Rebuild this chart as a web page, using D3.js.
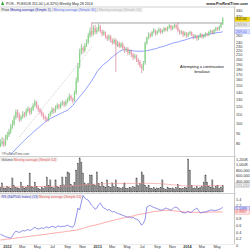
<!DOCTYPE html>
<html>
<head>
<meta charset="utf-8">
<script src="https://d3js.org/d3.v7.min.js"></script>
<style>
  body { margin: 0; background: #fff; }
  svg { display: block; font-family: 'Liberation Sans', Arial, sans-serif; }
</style>
</head>
<body>
<div id="chart"></div>
<script>
// weekly candles, first and last week of the chart
var firstWeek = new Date(2011, 11, 5),
    lastWeek = new Date(2014, 4, 26)

var opens = [78,80,82,79,84,88,91,96,99,106,
  113,110,104,107,111,109,114,117,112,116,
  121,126,120,116,113,110,107,105,104,109,
  112,116,114,118,121,119,123,125,122,126,
  129,134,130,127,138,158,185,215,226,219,
  232,240,258,272,262,280,268,275,285,270,
  262,268,255,250,256,245,240,246,232,238,
  230,236,226,220,224,214,218,210,204,208,
  198,194,186,180,192,238,252,262,258,268,
  274,264,270,276,268,272,280,274,282,288,
  278,284,290,282,272,266,270,260,266,258,
  264,268,260,254,258,250,256,262,254,258,
  264,260,268,272,266,274,280,276,284,292]

var highs = [84,86,85,88,91,94,99,103,109,116,
  116,112,109,114,113,117,120,118,119,124,
  129,127,122,118,115,112,109,107,111,114,
  119,118,121,124,123,126,128,127,129,132,
  138,136,132,142,164,192,224,236,230,238,
  248,266,282,298,288,290,284,294,290,276,
  274,270,260,262,260,250,252,250,244,242,
  240,240,230,228,228,222,222,214,212,210,
  202,198,190,196,242,256,268,266,272,280,
  276,274,282,280,276,284,282,286,292,290,
  288,294,292,298,276,274,272,270,268,268,
  272,270,262,262,260,260,266,264,262,268,
  266,272,276,274,278,284,284,288,296,315]

var lows = [77,78,77,78,83,86,89,94,97,104,
  106,101,102,105,106,107,112,109,110,114,
  119,117,113,110,107,104,102,101,102,107,
  110,111,112,116,116,117,121,119,120,124,
  127,127,124,126,136,155,181,210,212,215,
  228,236,252,255,258,262,262,270,266,256,
  258,250,244,246,240,234,236,174,228,226,
  226,222,214,216,208,210,204,198,200,194,
  188,182,172,176,188,234,248,252,254,264,
  258,260,266,262,264,268,270,270,278,272,
  274,280,276,268,260,262,254,256,252,254,
  260,256,248,250,244,246,252,250,250,254,
  256,256,264,262,262,270,272,272,280,290]

var closes = [80,82,79,84,88,91,96,99,106,113,
  110,104,107,111,109,114,117,112,116,121,
  126,120,116,113,110,107,105,104,109,112,
  116,114,118,121,119,123,125,122,126,129,
  134,130,127,138,158,185,215,226,219,232,
  240,258,272,262,280,268,275,285,270,262,
  268,255,250,256,245,240,246,232,238,230,
  236,226,220,224,214,218,210,204,208,198,
  194,186,180,192,238,252,262,258,268,274,
  264,270,276,268,272,280,274,282,288,278,
  284,290,282,272,266,270,260,266,258,264,
  268,260,254,258,250,256,262,254,258,264,
  260,268,272,266,274,280,276,284,292,311]

// moving average (simple 30)
var ma30 = [null,null,null,null,null,null,71,72.5,74,75.5,
  77,78.5,80,81.5,83,84.5,86,87.5,89,90.5,
  92,93.5,95,96.5,98,99.5,101,103,104,105,
  106,107,108,109,110,111,112,113,114,115,
  117,119,121,124,127,130,133,136,139,142,
  146,150,154,158,163,168,174,178,182,186,
  189,192,194,198,201,205,208,211,214,217,
  219,221,222,222,221,220,219,219,218,218,
  218,218,218,218,219,219,220,221,222,223,
  224,225,227,228,229,230,232,233,235,236,
  238,239,240,241,242,244,245,246,248,249,
  251,252,253,254,255,256,257,258,259,260,
  261,262,263,264,265,266,267,267,268,269]

// volume in thousands
var volumes = [180,330,150,120,210,160,140,510,230,170,
  150,120,360,200,130,180,240,690,210,160,
  360,190,140,110,170,130,200,545,230,440,
  180,150,440,210,170,240,545,260,545,730,
  690,280,220,340,800,1050,1240,1090,690,330,
  260,300,620,620,280,240,730,310,210,360,
  220,180,440,200,160,330,190,440,170,150,
  130,160,330,140,120,170,150,200,180,510,
  230,300,730,620,250,180,250,140,120,160,
  110,150,130,170,440,120,100,180,140,130,
  150,110,160,270,130,120,140,170,150,1200,
  800,250,130,150,190,140,170,200,360,620,
  360,210,170,440,150,190,250,140,180,233]

var volumeMa = [185,186,186,187,187,188,188,189,190,190,
  191,191,192,193,193,194,195,196,196,197,
  198,198,199,200,200,201,202,203,204,205,
  206,207,208,209,210,211,212,213,215,217,
  219,220,221,222,226,232,240,248,254,258,
  262,266,270,275,279,283,288,292,295,298,
  300,302,304,306,307,308,309,310,311,312,
  312,312,313,313,313,313,314,314,314,315,
  316,317,318,319,318,317,316,314,312,310,
  308,306,303,300,296,292,286,280,274,268,
  262,256,250,244,238,232,226,220,218,224,
  228,230,230,230,230,230,231,231,232,232,
  232,232,233,233,233,233,233,233,233,233.433]

// relative strength vs index and its 52 week average
var relStrength = [0.33,0.30,0.28,0.25,0.24,0.22,0.21,0.27,0.36,0.42,
  0.40,0.38,0.41,0.44,0.42,0.45,0.47,0.44,0.46,0.50,
  0.54,0.50,0.48,0.50,0.52,0.50,0.53,0.55,0.52,0.54,
  0.57,0.55,0.53,0.56,0.58,0.55,0.57,0.56,0.58,0.60,
  0.57,0.55,0.54,0.62,0.85,1.12,1.06,1.30,1.50,1.42,
  1.38,1.36,1.28,1.20,1.15,1.08,1.12,1.22,1.27,1.18,
  1.12,1.10,1.05,1.08,1.04,1.00,1.02,0.98,0.96,0.94,
  0.92,0.90,0.88,0.86,0.84,0.85,0.82,0.84,0.80,0.78,
  0.76,0.68,0.60,0.66,0.78,1.15,1.18,1.20,1.16,1.14,
  1.12,1.10,1.08,1.06,1.06,1.09,1.12,1.10,1.08,1.05,
  1.10,1.14,1.15,1.12,1.05,1.00,0.98,0.97,0.99,1.02,
  0.98,1.00,1.05,1.08,1.12,1.04,0.97,0.98,1.00,1.00,
  1.02,1.04,1.06,1.06,1.04,1.05,1.06,1.08,1.10,1.1489]

var relStrengthMa = [0.15,0.16,0.16,0.17,0.18,0.18,0.19,0.20,0.20,0.21,
  0.22,0.22,0.23,0.24,0.24,0.25,0.26,0.26,0.27,0.28,
  0.28,0.29,0.30,0.30,0.31,0.32,0.32,0.33,0.34,0.35,
  0.35,0.36,0.37,0.37,0.38,0.39,0.39,0.40,0.41,0.42,
  0.42,0.43,0.44,0.44,0.45,0.46,0.48,0.49,0.51,0.52,
  0.54,0.55,0.57,0.58,0.59,0.60,0.62,0.63,0.64,0.66,
  0.67,0.69,0.70,0.71,0.73,0.74,0.75,0.77,0.78,0.79,
  0.80,0.82,0.83,0.84,0.85,0.86,0.87,0.88,0.89,0.91,
  0.92,0.93,0.94,0.95,0.96,0.97,0.98,0.99,1.00,1.01,
  1.02,1.02,1.03,1.04,1.04,1.05,1.05,1.05,1.05,1.04,
  1.04,1.03,1.03,1.02,1.02,1.01,1.01,1.00,1.00,1.00,
  1.00,0.99,0.99,0.99,0.99,0.99,0.99,0.99,0.99,0.99,
  0.99,1.00,1.00,1.00,1.00,1.00,1.00,1.00,1.00,0.9987]

// hand drawn lines on the chart
var resistanceLevel = 296,
    resistanceFrom = new Date(2012, 11, 10)
var trendFrom = [new Date(2012, 1, 20), new Date(2013, 1, 11)],
    trendTo = [new Date(2012, 11, 10), new Date(2013, 3, 22)],
    trendFromPrice = [86, 246],
    trendToPrice = [228, 226]

var priceTicks = [340, 320, 260, 240, 230, 220, 210, 200, 190, 180, 170, 160, 150, 140, 130, 120, 110, 100, 90, 80]
var volumeTicks = [400000, 600000, 800000, 1000000, 1200000]
var rsTicks = [0, 0.2, 0.4, 0.6, 0.8, 1.2, 1.4]
var monthTicks = d3.timeMonth.every(2).range(new Date(2012, 0, 1), new Date(2014, 5, 1))

var weeks = d3.timeMonday.range(firstWeek, d3.timeDay.offset(lastWeek, 1))
var idx = d3.range(closes.length)

var plotRight = 234

var x = d3.scaleTime()
    .domain([new Date(2012, 0, 1), new Date(2014, 0, 1)])
    .range([7, 187])
var yPrice = d3.scaleLog().domain([70, 352]).range([156, 7])
var yVol = d3.scaleLinear().domain([0, 1200000]).range([192, 159])
var yRs = d3.scaleLinear().domain([0, 1.4]).range([245, 198.8])

var svg = d3.select('#chart').append('svg')
    .attr('width', 250)
    .attr('height', 250)

var defs = svg.append('defs')
function clip(id, top, bottom) {
    defs.append('clipPath').attr('id', id)
        .append('rect').attr('x', 0).attr('y', top)
        .attr('width', plotRight).attr('height', bottom - top)
}
clip('cp-price', 7, 156)
clip('cp-vol', 156, 193)
clip('cp-rs', 193, 244)

// panel frames
svg.append('line').attr('x1', plotRight + 0.5).attr('x2', plotRight + 0.5)
    .attr('y1', 7).attr('y2', 244).attr('stroke', '#c8c8c8').attr('stroke-width', 1)
;[7, 156.5, 193.5].forEach(function(yy) {
    svg.append('line').attr('x1', 0).attr('x2', plotRight + 2)
        .attr('y1', yy).attr('y2', yy).attr('stroke', '#d0d0d0').attr('stroke-width', 1)
})
svg.append('line').attr('x1', 0).attr('x2', plotRight + 1)
    .attr('y1', 244.5).attr('y2', 244.5).attr('stroke', '#d8d8d8').attr('stroke-width', 0.5)

// header
svg.append('path').attr('d', 'M1,5 L2.6,1.2 L4.2,5 Z').attr('fill', '#2eaa2e')
svg.append('text').attr('x', 6).attr('y', 5).attr('font-size', '3.6px').attr('fill', '#222')
    .text('POS - PLEXUS   311.00 (+6.32%)   Weekly May 28 2014')
svg.append('text').attr('x', 248).attr('y', 5).attr('font-size', '3.8px')
    .attr('font-weight', 'bold').attr('text-anchor', 'end').attr('fill', '#222')
    .text('www.ProRealTime.com')

function legend(y, parts) {
    var t = svg.append('text').attr('x', 1.5).attr('y', y).attr('font-size', '3.4px')
    parts.forEach(function(p) {
        t.append('tspan').attr('fill', p[1]).text(p[0])
    })
    var w = t.node().getComputedTextLength()
    svg.insert('rect', 'text').attr('x', 0).attr('y', y - 3.3).attr('width', w + 3)
        .attr('height', 4.2).attr('fill', '#efefef')
}
legend(11, [['Price ', '#333'], ['Moving average (Simple 1) ', '#2a2ab0'],
    ['| ', '#999'], ['Moving average (Simple 30) ', '#5e72f0'], ['| ', '#999'],
    ['Moving average (Simple 10)', '#b8b8b8']])

// price panel
var gp = svg.append('g').attr('clip-path', 'url(#cp-price)')

gp.append('line')
    .attr('x1', x(resistanceFrom)).attr('x2', x(lastWeek))
    .attr('y1', yPrice(resistanceLevel)).attr('y2', yPrice(resistanceLevel))
    .attr('stroke', '#8a8a8a').attr('stroke-width', 0.8)

gp.selectAll('line.trend').data([0, 1]).join('line').attr('class', 'trend')
    .attr('x1', function(i) { return x(trendFrom[i]) })
    .attr('x2', function(i) { return x(trendTo[i]) })
    .attr('y1', function(i) { return yPrice(trendFromPrice[i]) })
    .attr('y2', function(i) { return yPrice(trendToPrice[i]) })
    .attr('stroke', '#b0b0b0').attr('stroke-width', 0.6).attr('stroke-dasharray', '1,1')

gp.append('path')
    .datum(idx.filter(function(i) { return ma30[i] != null }))
    .attr('fill', 'none').attr('stroke', '#7486ff').attr('stroke-width', 0.8)
    .attr('d', d3.line().x(function(i) { return x(weeks[i]) }).y(function(i) { return yPrice(ma30[i]) }))

gp.selectAll('line.wick').data(idx).join('line').attr('class', 'wick')
    .attr('x1', function(i) { return x(weeks[i]) })
    .attr('x2', function(i) { return x(weeks[i]) })
    .attr('y1', function(i) { return yPrice(highs[i]) })
    .attr('y2', function(i) { return yPrice(lows[i]) })
    .attr('stroke', function(i) { return closes[i] >= opens[i] ? '#3f8f3f' : '#c0506a' })
    .attr('stroke-width', 0.5)

gp.selectAll('rect.body').data(idx).join('rect').attr('class', 'body')
    .attr('x', function(i) { return x(weeks[i]) - 0.6 })
    .attr('width', 1.2)
    .attr('y', function(i) { return yPrice(Math.max(opens[i], closes[i])) })
    .attr('height', function(i) {
        return Math.max(0.4, yPrice(Math.min(opens[i], closes[i])) - yPrice(Math.max(opens[i], closes[i])))
    })
    .attr('fill', function(i) { return closes[i] >= opens[i] ? '#86d886' : '#f495ac' })

svg.append('text').attr('x', 202).attr('y', 68).attr('font-size', '3.9px')
    .attr('text-anchor', 'middle').attr('fill', '#111').text('Attempting a continuation')
svg.append('text').attr('x', 202).attr('y', 73).attr('font-size', '3.9px')
    .attr('text-anchor', 'middle').attr('fill', '#111').text('breakout')

svg.append('text').attr('x', 1.5).attr('y', 155).attr('font-size', '3.2px')
    .attr('fill', '#555').text('\u00a9ProRealTime.com')

// volume panel
legend(160.5, [['Volume ', '#555'], ['Moving average (Simple 52)', '#ee5a5a']])
var gv = svg.append('g').attr('clip-path', 'url(#cp-vol)')
gv.selectAll('rect').data(idx).join('rect')
    .attr('x', function(i) { return x(weeks[i]) - 0.6 })
    .attr('width', 1.2)
    .attr('y', function(i) { return yVol(volumes[i] * 1000) })
    .attr('height', function(i) { return yVol(0) - yVol(volumes[i] * 1000) })
    .attr('fill', '#8c8c8c').attr('stroke', '#4a4a4a').attr('stroke-width', 0.3)
gv.append('path').datum(idx)
    .attr('fill', 'none').attr('stroke', '#f08a8a').attr('stroke-width', 0.6)
    .attr('d', d3.line().x(function(i) { return x(weeks[i]) }).y(function(i) { return yVol(volumeMa[i] * 1000) }))

// relative strength panel
legend(197.5, [['RS (S&P500 Index) (13) ', '#3c3cc8'], ['Moving average (Simple 52)', '#ee5a5a']])
var gr = svg.append('g').attr('clip-path', 'url(#cp-rs)')
gr.append('path').datum(idx)
    .attr('fill', 'none').attr('stroke', '#ff8484').attr('stroke-width', 0.7)
    .attr('d', d3.line().x(function(i) { return x(weeks[i]) }).y(function(i) { return yRs(relStrengthMa[i]) }))
gr.append('path').datum(idx)
    .attr('fill', 'none').attr('stroke', '#6262e0').attr('stroke-width', 0.7)
    .attr('d', d3.line().x(function(i) { return x(weeks[i]) }).y(function(i) { return yRs(relStrength[i]) }))

// right axes
function rightAxis(scale, ticks, fmt) {
    var a = d3.axisRight(scale).tickValues(ticks).tickFormat(fmt).tickSize(0).tickPadding(2)
    var g = svg.append('g').attr('transform', 'translate(' + plotRight + ',0)').call(a)
    g.attr('font-size', '3.8px').attr('font-family', null)
    g.select('.domain').remove()
    g.selectAll('text').attr('fill', '#333')
    return g
}
rightAxis(yPrice, priceTicks, d3.format('d'))
rightAxis(yVol, volumeTicks, function(v) { return v >= 1000000 ? d3.format(',')(v / 1000) + 'K' : d3.format(',')(v) })
rightAxis(yRs, rsTicks, function(v) { return v === 0 ? '0' : d3.format('.1f')(v) })

// value tags on the right
function tag(y, label, fill, stroke, color) {
    svg.append('rect').attr('x', plotRight + 1).attr('y', y - 2.1).attr('width', 14.5).attr('height', 4.2)
        .attr('fill', fill).attr('stroke', stroke).attr('stroke-width', 0.4)
    svg.append('text').attr('x', plotRight + 2).attr('y', y + 1.2).attr('font-size', '3.5px')
        .attr('fill', color).text(label)
}
var last = closes.length - 1
var rsMaY = yRs(relStrengthMa[last])
tag(yPrice(closes[last]) + 0.8, d3.format('.2f')(closes[last]), '#f5d90a', '#c9b000', '#222')
tag(yPrice(290), '289.90', '#e6e6e6', '#bbb', '#999')
tag(yPrice(ma30[last]), d3.format('.2f')(ma30[last]), '#dfe3ff', '#8896ff', '#4a5ae0')
tag(yVol(volumeMa[last] * 1000), d3.format(',')(Math.round(volumeMa[last] * 1000)), '#f4f4f4', '#bbb', '#999')
tag(Math.min(yRs(relStrength[last]), rsMaY - 4.4) + 1.5, d3.format('.4f')(relStrength[last]), '#e0e0ff', '#7070e0', '#3c3cc8')
tag(rsMaY, d3.format('.4f')(relStrengthMa[last]), '#ffe6e6', '#f08080', '#e04848')

// bottom date axis
var xAxis = d3.axisBottom(x).tickValues(monthTicks).tickSize(0).tickPadding(0)
    .tickFormat(function(d) { return d.getMonth() === 0 ? d3.timeFormat('%Y')(d) : d3.timeFormat('%b')(d) })
var gx = svg.append('g').attr('transform', 'translate(0,245.5)').call(xAxis)
gx.attr('font-size', '3.8px').attr('font-family', null)
gx.select('.domain').remove()
gx.selectAll('text').attr('fill', '#333')
    .attr('font-weight', function(d) { return d.getMonth() === 0 ? 'bold' : 'normal' })
</script>
</body>
</html>
